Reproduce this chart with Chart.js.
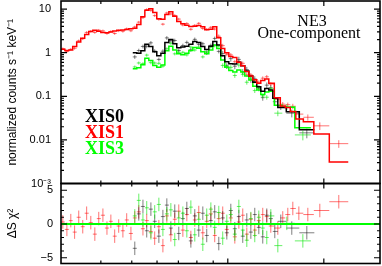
<!DOCTYPE html>
<html>
<head>
<meta charset="utf-8">
<script src="https://cdn.jsdelivr.net/npm/chart.js@4.4.1/dist/chart.umd.min.js"></script>
<style>
  body { margin: 0; background: #fff; }
  #wrap { position: relative; width: 382px; height: 266px; overflow: hidden; background: #fff; }
  canvas { position: absolute; left: 0; }
  .lbl { position: absolute; font-family: 'Liberation Serif', 'Times New Roman', serif; white-space: nowrap; }
  .xis { left: 85px; font-size: 18px; line-height: 18px; font-weight: bold; }
</style>
</head>
<body>
<div id="wrap">
  <canvas id="specChart" width="382" height="195" style="top:0"></canvas>
  <canvas id="residChart" width="382" height="86" style="top:180px"></canvas>
  <div class="lbl" style="left:262px;top:12.6px;width:100px;text-align:center;font-size:16px;line-height:16px">NE3</div>
  <div class="lbl" style="left:249px;top:24.6px;width:120px;text-align:center;font-size:16px;line-height:16px">One-component</div>
  <div class="lbl xis" style="top:107px;color:#000">XIS0</div>
  <div class="lbl xis" style="top:123px;color:#ff0000">XIS1</div>
  <div class="lbl xis" style="top:139px;color:#00ff00">XIS3</div>
</div>
<script>
// energies in keV (bin centres), counts in counts/s/keV, frac = relative error, resid = delta chi
const xis1Energy = [0.304,0.313,0.322,0.331,0.341,0.351,0.361,0.372,0.383,0.394,0.406,0.418,0.430,0.442,0.455,0.469,0.482,0.497,0.511,0.526,
  0.542,0.557,0.574,0.590,0.608,0.626,0.644,0.663,0.682,0.702,0.723,0.744,0.766,0.788,0.811,0.835,0.859,0.885,0.910,0.937,
  0.964,0.993,1.022,1.052,1.083,1.114,1.147,1.181,1.215,1.251,1.287,1.325,1.364,1.435,1.487,1.542,1.599,1.670,1.782,1.943,2.228];
const xis1Counts = [1.23,1.06,1.19,1.26,1.87,2.09,2.91,3.09,2.91,3.27,3.16,2.76,3.06,2.75,3.18,3.09,3.52,3.18,3.88,5.01,
  6.37,9.73,9.32,7.08,5.83,4.50,8.13,7.73,7.13,5.89,4.31,4.67,3.44,4.22,4.70,3.59,3.44,3.81,3.48,2.38,
  1.45,0.92,0.89,0.62,0.62,0.57,0.31,0.31,0.22,0.21,0.26,0.28,0.19,0.085,0.066,0.064,0.059,0.039,0.033,0.021,0.0082];
const xis1Model = [1.20,1.12,1.15,1.38,1.75,2.15,2.62,3.05,3.25,3.10,2.90,2.88,2.98,3.15,3.25,3.32,3.38,3.52,3.65,4.45,
  6.7,9.4,10.1,8.3,6.0,5.8,7.5,8.7,6.8,5.2,4.6,4.25,4.0,4.05,4.2,3.95,3.35,3.45,3.95,2.2,
  1.25,1.0,0.82,0.77,0.60,0.50,0.37,0.29,0.24,0.20,0.23,0.25,0.20,0.092,0.060,0.055,0.045,0.030,0.026,0.0137,0.0031];
const xis1Frac = [0.07,0.07,0.07,0.07,0.07,0.07,0.07,0.07,0.07,0.07,0.07,0.07,0.07,0.07,0.07,0.07,0.07,0.07,0.07,0.07,
  0.07,0.07,0.07,0.07,0.07,0.07,0.07,0.07,0.07,0.07,0.07,0.07,0.07,0.07,0.07,0.07,0.07,0.07,0.07,0.10,
  0.10,0.10,0.10,0.10,0.10,0.10,0.10,0.10,0.10,0.10,0.10,0.10,0.10,0.12,0.12,0.12,0.14,0.16,0.16,0.2,0.2];
const xis1Resid = [0.3,-0.8,0.5,-1.2,1.0,-0.4,1.6,0.2,-1.5,0.8,1.3,-0.6,0.4,-1.8,-0.3,-1.0,0.6,-1.4,0.9,1.8,
  -0.7,0.5,-1.1,-2.1,-0.4,-3.2,1.2,-1.6,0.7,1.9,-0.9,1.4,-2.0,0.6,1.7,-1.3,0.4,1.5,-1.7,0.8,
  1.6,-0.8,0.9,-1.9,0.3,1.3,-1.5,0.7,-0.9,0.5,1.4,1.1,-0.3,-0.6,0.9,1.4,2.3,1.6,1.4,2.0,3.3];

const xis0Energy = [0.511,0.526,0.542,0.557,0.574,0.590,0.608,0.626,0.644,0.663,0.682,0.702,0.723,0.744,0.766,0.788,0.811,0.835,0.859,0.885,
  0.910,0.937,0.964,0.993,1.022,1.052,1.083,1.114,1.147,1.181,1.215,1.251,1.287,1.325,1.364,1.404,1.466,1.587,1.769];
const xis0Counts = [0.80,1.12,1.39,1.40,1.68,1.09,0.70,1.08,2.18,1.88,1.90,1.12,1.46,1.72,1.16,2.02,1.55,1.60,0.98,1.47,
  2.12,1.07,0.96,0.50,0.73,0.49,0.70,0.365,0.41,0.24,0.25,0.153,0.093,0.18,0.157,0.075,0.057,0.041,0.0145];
const xis0Model = [1.0,0.97,1.10,1.55,1.38,1.05,0.85,0.97,1.70,2.0,1.60,1.30,1.35,1.40,1.55,1.80,1.70,1.38,1.18,1.40,
  1.80,1.50,0.85,0.62,0.56,0.55,0.60,0.50,0.38,0.29,0.21,0.165,0.13,0.15,0.14,0.09,0.055,0.044,0.017];
const xis0Frac = [0.1,0.1,0.1,0.1,0.1,0.1,0.1,0.1,0.1,0.1,0.1,0.1,0.1,0.1,0.1,0.1,0.1,0.1,0.1,0.1,
  0.1,0.1,0.15,0.15,0.15,0.15,0.15,0.15,0.15,0.15,0.15,0.15,0.15,0.15,0.15,0.15,0.15,0.2,0.25];
const xis0Resid = [-3.6,1.5,2.6,-1.0,2.2,0.4,-1.8,1.1,2.8,-0.6,1.9,-1.4,0.8,2.3,-2.5,1.2,-0.9,1.6,-1.7,0.5,
  1.8,-2.9,0.9,-1.3,2.0,-0.7,1.1,-1.8,0.6,-1.2,1.4,-0.5,-1.9,1.3,0.8,-1.1,0.4,-0.6,-1.3];

const xis3Energy = [0.511,0.526,0.542,0.557,0.574,0.590,0.608,0.626,0.644,0.663,0.682,0.702,0.723,0.744,0.766,0.788,0.811,0.835,0.859,0.885,
  0.910,0.937,0.964,0.993,1.022,1.052,1.083,1.114,1.147,1.181,1.215,1.251,1.287,1.325,1.364,1.435,1.531,1.719];
const xis3Counts = [0.47,0.58,0.56,0.88,0.59,0.58,0.57,0.49,1.23,1.64,0.94,1.02,1.02,0.89,1.34,1.15,1.34,0.80,1.05,1.35,
  1.44,1.42,0.51,0.48,0.46,0.30,0.52,0.32,0.21,0.26,0.135,0.157,0.102,0.095,0.149,0.041,0.057,0.013];
const xis3Model = [0.43,0.45,0.53,0.74,0.66,0.51,0.46,0.52,1.10,1.40,1.15,0.95,0.90,0.97,1.12,1.32,1.27,1.05,0.95,1.15,
  1.50,1.25,0.68,0.46,0.39,0.36,0.40,0.36,0.29,0.235,0.17,0.14,0.11,0.125,0.13,0.062,0.056,0.019];
const xis3Frac = [0.08,0.08,0.08,0.08,0.08,0.08,0.08,0.08,0.08,0.08,0.08,0.08,0.08,0.08,0.08,0.08,0.08,0.08,0.08,0.08,
  0.08,0.08,0.12,0.12,0.12,0.12,0.12,0.12,0.12,0.12,0.12,0.12,0.12,0.12,0.12,0.15,0.15,0.25];
const xis3Resid = [1.2,3.5,0.6,2.4,-1.3,1.8,2.9,-0.8,1.5,2.1,-2.3,0.9,1.6,-1.0,2.5,-1.6,0.7,-3.0,1.3,2.2,
  -0.5,1.7,-2.1,0.4,1.4,-1.5,2.6,-0.9,-2.4,0.8,-1.7,1.0,-0.6,-2.0,1.2,-3.2,0.1,-2.5];

// axes
const energyRange = [0.3, 3];
const energyTicks = [0.4, 0.5, 0.6, 0.7, 0.8, 0.9, 1, 2];
const energyMajor = [1, 2];
const countDecades = [0.001, 0.01, 0.1, 1, 10];
const countLabels = ['10\u207B\u00B3', '0.01', '0.1', '1', '10'];
const countRange = [0.001, 15.3];
const residTicks = [-5, -4, -3, -2, -1, 0, 1, 2, 3, 4, 5];
const residLabels = { '-5': '\u22125', '0': '0', '5': '5' };
const residRange = [-5.85, 6];
const zeroLine = [0, 0];

const RED = '#ff0000', BLACK = '#000000', GREEN = '#00ff00';
const RED_A = 'rgba(255,0,0,0.55)', BLACK_A = 'rgba(0,0,0,0.5)', GREEN_A = 'rgba(0,230,0,0.6)';

Chart.defaults.font.family = "'Liberation Sans', Arial, sans-serif";
Chart.defaults.color = '#000';

// minor ticks of the log axis: 2..9 x each decade below the top
const countTicks = [];
countDecades.forEach(d => {
  countTicks.push({ v: d, major: true });
  for (let m = 2; m <= 9; m++) if (d * m <= countRange[1]) countTicks.push({ v: d * m, major: false });
});

// bin edges halfway (in log) between neighbouring centres
const binLo = (es, i) => i > 0 ? Math.sqrt(es[i - 1] * es[i]) : es[0] * Math.sqrt(es[0] / es[1]);
const binHi = (es, i) => {
  const n = es.length;
  return i < n - 1 ? Math.sqrt(es[i] * es[i + 1]) : es[n - 1] * Math.sqrt(es[n - 1] / es[n - 2]);
};

const toPoints = (es, vs) => es.map((e, i) => ({ x: e, y: vs[i] }));

// histogram: centres plus the outer bin edges
const toSteps = (es, vs) => {
  const n = es.length;
  return [{ x: binLo(es, 0), y: vs[0] }, ...toPoints(es, vs), { x: binHi(es, n - 1), y: vs[n - 1] }];
};

// fixed axis width, and no extra room for the end labels
const fitLeftAxis = s => {
  s.width = 61;
  s.paddingTop = 0;
  s.paddingBottom = 0;
};

// data crosses: bin width horizontally, error vertically
const crossPlugin = {
  id: 'crosses',
  beforeDatasetsDraw(chart, args, opts) {
    const { ctx, chartArea: a, scales: { x, y } } = chart;
    ctx.save();
    ctx.beginPath();
    ctx.rect(a.left, a.top, a.right - a.left, a.bottom - a.top);
    ctx.clip();
    ctx.lineWidth = 1;
    opts.sets.forEach(s => {
      ctx.strokeStyle = s.color;
      ctx.beginPath();
      s.e.forEach((e, i) => {
        const v = s.v[i];
        const dv = s.dv[i];
        const py = y.getPixelForValue(v);
        ctx.moveTo(x.getPixelForValue(binLo(s.e, i)), py);
        ctx.lineTo(x.getPixelForValue(binHi(s.e, i)), py);
        const px = x.getPixelForValue(e);
        ctx.moveTo(px, y.getPixelForValue(v - dv));
        ctx.lineTo(px, y.getPixelForValue(v + dv));
      });
      ctx.stroke();
    });
    ctx.restore();
  }
};

// box with inward ticks on all four sides
const framePlugin = {
  id: 'frame',
  afterDraw(chart, args, opts) {
    const { ctx, chartArea: a, scales: { x, y } } = chart;
    ctx.save();
    ctx.strokeStyle = '#000';
    ctx.lineWidth = 1.2;
    ctx.beginPath();
    energyTicks.forEach(v => {
      const px = x.getPixelForValue(v);
      const len = energyMajor.includes(v) ? 5 : 3;
      ctx.moveTo(px, a.top); ctx.lineTo(px, a.top + len);
      ctx.moveTo(px, a.bottom); ctx.lineTo(px, a.bottom - len);
    });
    opts.yTicks.forEach(t => {
      const py = y.getPixelForValue(t.v);
      const len = t.major ? 6 : 3;
      ctx.moveTo(a.left, py); ctx.lineTo(a.left + len, py);
      ctx.moveTo(a.right, py); ctx.lineTo(a.right - len, py);
    });
    ctx.stroke();
    ctx.lineWidth = 1.6;
    ctx.strokeRect(a.left, a.top, a.right - a.left, a.bottom - a.top);
    ctx.restore();
  }
};

const modelLine = (es, vs, color) => ({
  data: toSteps(es, vs),
  borderColor: color,
  borderWidth: 1.5,
  pointRadius: 0,
  stepped: 'middle',
  fill: false
});

new Chart(document.getElementById('specChart'), {
  type: 'line',
  data: {
    datasets: [
      modelLine(xis1Energy, xis1Model, RED),
      modelLine(xis0Energy, xis0Model, BLACK),
      modelLine(xis3Energy, xis3Model, GREEN)
    ]
  },
  options: {
    responsive: false,
    animation: false,
    layout: { autoPadding: false, padding: { left: 0, right: 2, top: 1, bottom: 11.5 } },
    plugins: {
      legend: { display: false },
      tooltip: { enabled: false },
      crosses: {
        sets: [
          { e: xis1Energy, v: xis1Counts, dv: xis1Counts.map((c, i) => c * xis1Frac[i]), color: RED_A },
          { e: xis0Energy, v: xis0Counts, dv: xis0Counts.map((c, i) => c * xis0Frac[i]), color: BLACK_A },
          { e: xis3Energy, v: xis3Counts, dv: xis3Counts.map((c, i) => c * xis3Frac[i]), color: GREEN_A }
        ]
      },
      frame: { yTicks: countTicks }
    },
    scales: {
      x: { type: 'logarithmic', min: energyRange[0], max: energyRange[1], display: false },
      y: {
        type: 'logarithmic',
        min: countRange[0],
        max: countRange[1],
        afterFit: fitLeftAxis,
        afterBuildTicks: s => { s.ticks = countDecades.map(v => ({ value: v })); },
        ticks: {
          autoSkip: false,
          padding: 10,
          font: { size: 11 },
          callback: (v) => countLabels[countDecades.indexOf(v)] || ''
        },
        grid: { display: false, drawTicks: false },
        border: { display: false },
        title: {
          display: true,
          text: 'normalized counts s\u207B\u00B9 keV\u207B\u00B9',
          font: { size: 12 },
          padding: { top: 5, bottom: 0 }
        }
      }
    }
  },
  plugins: [crossPlugin, framePlugin]
});

new Chart(document.getElementById('residChart'), {
  type: 'line',
  data: {
    datasets: [{
      data: toPoints(energyRange, zeroLine),
      borderColor: GREEN,
      borderWidth: 2,
      pointRadius: 0,
      fill: false
    }]
  },
  options: {
    responsive: false,
    animation: false,
    layout: { autoPadding: false, padding: { left: 0, right: 2, top: 3.5, bottom: 2.5 } },
    plugins: {
      legend: { display: false },
      tooltip: { enabled: false },
      crosses: {
        sets: [
          { e: xis1Energy, v: xis1Resid, dv: xis1Resid.map(() => 1), color: RED_A },
          { e: xis0Energy, v: xis0Resid, dv: xis0Resid.map(() => 1), color: BLACK_A },
          { e: xis3Energy, v: xis3Resid, dv: xis3Resid.map(() => 1), color: GREEN_A }
        ]
      },
      frame: { yTicks: residTicks.map(v => ({ v: v, major: v % 5 === 0 })) }
    },
    scales: {
      x: { type: 'logarithmic', min: energyRange[0], max: energyRange[1], display: false },
      y: {
        type: 'linear',
        min: residRange[0],
        max: residRange[1],
        afterFit: fitLeftAxis,
        afterBuildTicks: s => { s.ticks = residTicks.map(v => ({ value: v })); },
        ticks: {
          autoSkip: false,
          padding: 8,
          font: { size: 11 },
          callback: (v) => residLabels[String(v)] || ''
        },
        grid: { display: false, drawTicks: false },
        border: { display: false },
        title: {
          display: true,
          text: '\u0394S \u03C7\u00B2',
          font: { size: 12 },
          padding: { top: 5, bottom: 0 }
        }
      }
    }
  },
  plugins: [crossPlugin, framePlugin]
});
</script>
</body>
</html>
